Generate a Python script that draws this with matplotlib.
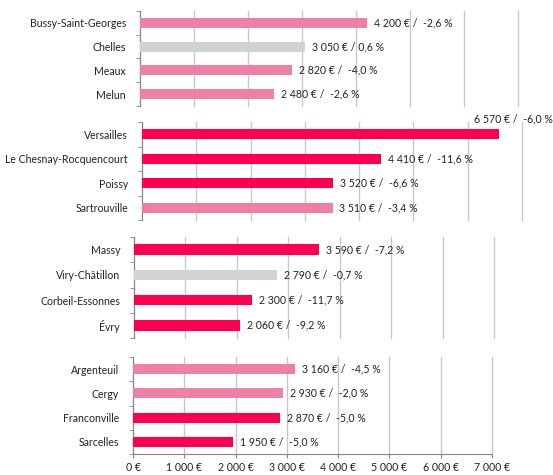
import matplotlib
matplotlib.use("Agg")
import matplotlib.pyplot as plt
import numpy as np

plt.rcParams["font.family"] = ["Lato", "DejaVu Sans"]

groups = [
    ["Bussy-Saint-Georges", "Chelles", "Meaux", "Melun"],
    ["Versailles", "Le Chesnay-Rocquencourt", "Poissy", "Sartrouville"],
    ["Massy", "Viry-Châtillon", "Corbeil-Essonnes", "Évry"],
    ["Argenteuil", "Cergy", "Franconville", "Sarcelles"],
]
prices = [
    [4200, 3050, 2820, 2480],
    [6570, 4410, 3520, 3510],
    [3590, 2790, 2300, 2060],
    [3160, 2930, 2870, 1950],
]
changes = [
    [-2.6, 0.6, -4.0, -2.6],
    [-6.0, -11.6, -6.6, -3.4],
    [-7.2, -0.7, -11.7, -9.2],
    [-4.5, -2.0, -5.0, -5.0],
]
x_ticks = [0, 1000, 2000, 3000, 4000, 5000, 6000, 7000]

PINK = "#EE7FA7"
RED = "#FF0050"
GREY = "#D0D3D6"


def bar_color(pct):
    if abs(pct) < 1:
        return GREY
    if pct > -5:
        return PINK
    return RED


def fmt_num(v):
    return f"{v:,}".replace(",", " ")


def fmt_pct(p):
    return f"{p:.1f}".replace(".", ",")


W, H = 553, 475
# panel boxes in pixels: left, top, right(7000), bottom
boxes = [
    (140, 11, 518, 106),
    (142, 122, 522, 220),
    (134, 237, 494, 338),
    (133, 357, 492, 454),
]
FS = 7.6

fig = plt.figure(figsize=(W / 100, H / 100), dpi=100)

for i, (names, vals, pcts) in enumerate(zip(groups, prices, changes)):
    l, t, r, b = boxes[i]
    ax = fig.add_axes([l / W, 1 - b / H, (r - l) / W, (b - t) / H])
    y = np.arange(len(names))
    colors = [bar_color(p) for p in pcts]
    ax.barh(y, vals, height=0.42, color=colors, zorder=3)
    ax.set_xlim(0, 7000)
    ax.set_ylim(len(names) - 0.5, -0.5)
    ax.set_xticks(x_ticks)
    ax.grid(axis="x", color="#C8C8C8", linewidth=1, zorder=0)
    for gl in ax.get_xgridlines():
        gl.set_clip_on(False)
    ax.set_yticks(y)
    ax.set_yticklabels(names, fontsize=FS, color="#222222")
    ax.set_yticks(np.arange(len(names) + 1) - 0.5, minor=True)
    ax.tick_params(axis="y", which="major", length=0, pad=10)
    ax.tick_params(axis="y", which="minor", length=3, color="#868686", direction="out")
    for s in ["top", "right"]:
        ax.spines[s].set_visible(False)
    ax.spines["left"].set_color("#868686")
    if i < 3:
        ax.spines["bottom"].set_visible(False)
        ax.tick_params(axis="x", length=0, labelbottom=False)
    else:
        ax.spines["bottom"].set_color("#868686")
        ax.set_xticklabels([fmt_num(v) + " €" for v in x_ticks], fontsize=FS, color="#222222")
        ax.tick_params(axis="x", length=3, color="#868686", pad=3)

    for yy, v, p in zip(y, vals, pcts):
        txt = f"{fmt_num(v)} € /  {fmt_pct(p)} %" if p < 0 else f"{fmt_num(v)} € / {fmt_pct(p)} %"
        if v > 6000:
            ax.annotate(txt, (v, yy), xytext=(-18, 11), textcoords="offset points",
                        fontsize=FS, va="center", ha="left", color="#222222",
                        annotation_clip=False)
        else:
            ax.annotate(txt, (v, yy), xytext=(5, 0), textcoords="offset points",
                        fontsize=FS, va="center", ha="left", color="#222222")

fig.savefig("out.png", dpi=100)
